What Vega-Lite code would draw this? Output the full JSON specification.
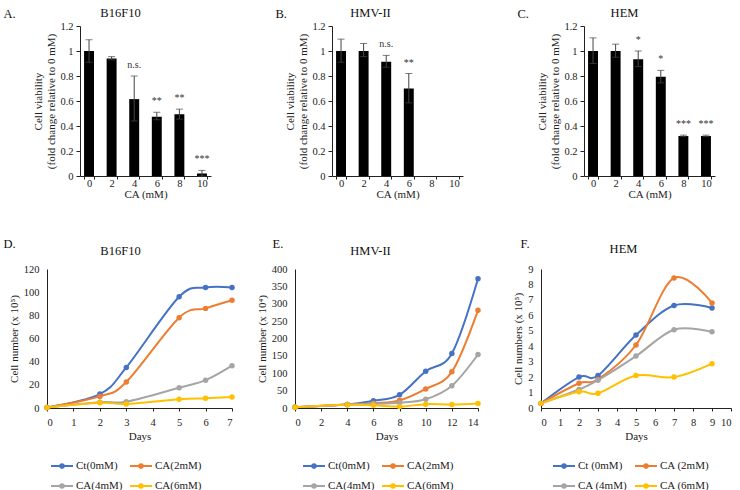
{
  "$schema": "https://vega.github.io/schema/vega-lite/v6.json",
  "padding": {"left": 3, "top": 6, "right": 0, "bottom": 0},
  "spacing": 37,
  "datasets": {
    "barA": [
      {"ca": "0", "v": 1.0, "lo": 0.91, "hi": 1.09, "sig": ""},
      {"ca": "2", "v": 0.94, "lo": 0.93, "hi": 0.955, "sig": ""},
      {"ca": "4", "v": 0.615, "lo": 0.44, "hi": 0.8, "sig": "n.s."},
      {"ca": "6", "v": 0.475, "lo": 0.45, "hi": 0.51, "sig": "**"},
      {"ca": "8", "v": 0.495, "lo": 0.455, "hi": 0.535, "sig": "**"},
      {"ca": "10", "v": 0.02, "lo": 0.0, "hi": 0.045, "sig": "***"}
    ],
    "barB": [
      {"ca": "0", "v": 1.0, "lo": 0.91, "hi": 1.095, "sig": ""},
      {"ca": "2", "v": 1.0, "lo": 0.955, "hi": 1.06, "sig": ""},
      {"ca": "4", "v": 0.915, "lo": 0.87, "hi": 0.965, "sig": "n.s."},
      {"ca": "6", "v": 0.7, "lo": 0.585, "hi": 0.82, "sig": "**"},
      {"ca": "8", "v": 0, "sig": ""},
      {"ca": "10", "v": 0, "sig": ""}
    ],
    "barC": [
      {"ca": "0", "v": 1.0, "lo": 0.9, "hi": 1.105, "sig": ""},
      {"ca": "2", "v": 1.0, "lo": 0.95, "hi": 1.055, "sig": ""},
      {"ca": "4", "v": 0.935, "lo": 0.875, "hi": 1.0, "sig": "*"},
      {"ca": "6", "v": 0.795, "lo": 0.745, "hi": 0.845, "sig": "*"},
      {"ca": "8", "v": 0.32, "lo": 0.315, "hi": 0.327, "sig": "***"},
      {"ca": "10", "v": 0.32, "lo": 0.315, "hi": 0.327, "sig": "***"}
    ],
    "lineD": [
      {"s": "Ct(0mM)", "day": 0, "v": 0.5}, {"s": "Ct(0mM)", "day": 2, "v": 12}, {"s": "Ct(0mM)", "day": 3, "v": 35}, {"s": "Ct(0mM)", "day": 5, "v": 96}, {"s": "Ct(0mM)", "day": 6, "v": 104}, {"s": "Ct(0mM)", "day": 7, "v": 104},
      {"s": "CA(2mM)", "day": 0, "v": 0.5}, {"s": "CA(2mM)", "day": 2, "v": 10}, {"s": "CA(2mM)", "day": 3, "v": 22.5}, {"s": "CA(2mM)", "day": 5, "v": 78}, {"s": "CA(2mM)", "day": 6, "v": 86}, {"s": "CA(2mM)", "day": 7, "v": 93},
      {"s": "CA(4mM)", "day": 0, "v": 0.5}, {"s": "CA(4mM)", "day": 2, "v": 5}, {"s": "CA(4mM)", "day": 3, "v": 5.5}, {"s": "CA(4mM)", "day": 5, "v": 17.5}, {"s": "CA(4mM)", "day": 6, "v": 24}, {"s": "CA(4mM)", "day": 7, "v": 36.5},
      {"s": "CA(6mM)", "day": 0, "v": 0.5}, {"s": "CA(6mM)", "day": 2, "v": 4.5}, {"s": "CA(6mM)", "day": 3, "v": 3.5}, {"s": "CA(6mM)", "day": 5, "v": 7.5}, {"s": "CA(6mM)", "day": 6, "v": 8.5}, {"s": "CA(6mM)", "day": 7, "v": 9.5}
    ],
    "lineE": [
      {"s": "Ct(0mM)", "day": 0, "v": 2}, {"s": "Ct(0mM)", "day": 4, "v": 10}, {"s": "Ct(0mM)", "day": 6, "v": 21}, {"s": "Ct(0mM)", "day": 8, "v": 38}, {"s": "Ct(0mM)", "day": 10, "v": 106}, {"s": "Ct(0mM)", "day": 12, "v": 157}, {"s": "Ct(0mM)", "day": 14, "v": 372},
      {"s": "CA(2mM)", "day": 0, "v": 2}, {"s": "CA(2mM)", "day": 4, "v": 10}, {"s": "CA(2mM)", "day": 6, "v": 14}, {"s": "CA(2mM)", "day": 8, "v": 22}, {"s": "CA(2mM)", "day": 10, "v": 55}, {"s": "CA(2mM)", "day": 12, "v": 104}, {"s": "CA(2mM)", "day": 14, "v": 281},
      {"s": "CA(4mM)", "day": 0, "v": 2}, {"s": "CA(4mM)", "day": 4, "v": 10}, {"s": "CA(4mM)", "day": 6, "v": 12}, {"s": "CA(4mM)", "day": 8, "v": 15}, {"s": "CA(4mM)", "day": 10, "v": 25}, {"s": "CA(4mM)", "day": 12, "v": 64}, {"s": "CA(4mM)", "day": 14, "v": 154},
      {"s": "CA(6mM)", "day": 0, "v": 2}, {"s": "CA(6mM)", "day": 4, "v": 9}, {"s": "CA(6mM)", "day": 6, "v": 8}, {"s": "CA(6mM)", "day": 8, "v": 4}, {"s": "CA(6mM)", "day": 10, "v": 11}, {"s": "CA(6mM)", "day": 12, "v": 10}, {"s": "CA(6mM)", "day": 14, "v": 13}
    ],
    "lineF": [
      {"s": "Ct (0mM)", "day": 0, "v": 0.3}, {"s": "Ct (0mM)", "day": 2, "v": 2.0}, {"s": "Ct (0mM)", "day": 3, "v": 2.1}, {"s": "Ct (0mM)", "day": 5, "v": 4.72}, {"s": "Ct (0mM)", "day": 7, "v": 6.64}, {"s": "Ct (0mM)", "day": 9, "v": 6.47},
      {"s": "CA (2mM)", "day": 0, "v": 0.3}, {"s": "CA (2mM)", "day": 2, "v": 1.6}, {"s": "CA (2mM)", "day": 3, "v": 1.85}, {"s": "CA (2mM)", "day": 5, "v": 4.08}, {"s": "CA (2mM)", "day": 7, "v": 8.42}, {"s": "CA (2mM)", "day": 9, "v": 6.8},
      {"s": "CA (4mM)", "day": 0, "v": 0.3}, {"s": "CA (4mM)", "day": 2, "v": 1.2}, {"s": "CA (4mM)", "day": 3, "v": 1.8}, {"s": "CA (4mM)", "day": 5, "v": 3.36}, {"s": "CA (4mM)", "day": 7, "v": 5.07}, {"s": "CA (4mM)", "day": 9, "v": 4.93},
      {"s": "CA (6mM)", "day": 0, "v": 0.3}, {"s": "CA (6mM)", "day": 2, "v": 1.05}, {"s": "CA (6mM)", "day": 3, "v": 0.95}, {"s": "CA (6mM)", "day": 5, "v": 2.1}, {"s": "CA (6mM)", "day": 7, "v": 2.0}, {"s": "CA (6mM)", "day": 9, "v": 2.87}
    ]
  },
  "vconcat": [
    {
      "hconcat": [
        {
          "width": 131, "height": 150,
          "data": {"name": "barA"},
          "resolve": {"axis": {"x": "independent", "y": "independent"}},
          "layer": [
            {"mark": {"type": "bar", "color": "#000"}, "encoding": {
              "x": {"field": "ca", "type": "ordinal", "scale": {"domain": ["0", "2", "4", "6", "8", "10"], "paddingInner": 0.56, "paddingOuter": 0.18}, "axis": {"title": "CA (mM)", "labelAngle": 0, "tickBand": "extent", "tickSize": 3, "labelPadding": -1, "titlePadding": 0}},
              "y": {"field": "v", "type": "quantitative", "scale": {"domain": [0, 1.2]}, "axis": {"values": [0, 0.2, 0.4, 0.6, 0.8, 1, 1.2], "format": "~g", "title": ["Cell viability", "(fold change relative to 0 mM)"], "tickSize": 4, "labelPadding": 3, "titlePadding": 3}}}},
            {"mark": {"type": "rule", "color": "#444"}, "encoding": {"x": {"field": "ca", "type": "ordinal", "axis": null}, "y": {"field": "lo", "type": "quantitative", "axis": null}, "y2": {"field": "hi"}}},
            {"mark": {"type": "tick", "color": "#444", "size": 7, "thickness": 1}, "encoding": {"x": {"field": "ca", "type": "ordinal", "axis": null}, "y": {"field": "lo", "type": "quantitative", "axis": null}}},
            {"mark": {"type": "tick", "color": "#444", "size": 7, "thickness": 1}, "encoding": {"x": {"field": "ca", "type": "ordinal", "axis": null}, "y": {"field": "hi", "type": "quantitative", "axis": null}}},
            {"mark": {"type": "text", "baseline": "alphabetic", "dy": -8, "fontSize": 10, "color": "#333", "font": "Liberation Serif"}, "encoding": {"x": {"field": "ca", "type": "ordinal", "axis": null}, "y": {"field": "hi", "type": "quantitative", "axis": null}, "text": {"field": "sig"}}},
            {"mark": {"type": "point", "opacity": 0}, "encoding": {
              "x": {"field": "ca", "type": "ordinal", "axis": {"orient": "top", "domain": false, "labels": false, "ticks": false, "title": "B16F10", "titleX": 40, "titleY": -14, "titleAlign": "center", "titleBaseline": "middle", "titleFontSize": 12.5, "titleColor": "#111"}},
              "y": {"field": "v", "type": "quantitative", "axis": {"orient": "right", "domain": false, "labels": false, "ticks": false, "title": "A.", "titleX": -208, "titleY": -13, "titleAngle": 0, "titleAlign": "left", "titleBaseline": "middle", "titleFontSize": 12.5, "titleColor": "#111"}}}}
          ]
        },
        {
          "width": 131, "height": 150,
          "data": {"name": "barB"},
          "resolve": {"axis": {"x": "independent", "y": "independent"}},
          "layer": [
            {"mark": {"type": "bar", "color": "#000"}, "encoding": {
              "x": {"field": "ca", "type": "ordinal", "scale": {"domain": ["0", "2", "4", "6", "8", "10"], "paddingInner": 0.56, "paddingOuter": 0.18}, "axis": {"title": "CA (mM)", "labelAngle": 0, "tickBand": "extent", "tickSize": 3, "labelPadding": -1, "titlePadding": 0}},
              "y": {"field": "v", "type": "quantitative", "scale": {"domain": [0, 1.2]}, "axis": {"values": [0, 0.2, 0.4, 0.6, 0.8, 1, 1.2], "format": "~g", "title": ["Cell viability", "(fold change relative to 0 mM)"], "tickSize": 4, "labelPadding": 3, "titlePadding": 3}}}},
            {"mark": {"type": "rule", "color": "#444"}, "encoding": {"x": {"field": "ca", "type": "ordinal", "axis": null}, "y": {"field": "lo", "type": "quantitative", "axis": null}, "y2": {"field": "hi"}}},
            {"mark": {"type": "tick", "color": "#444", "size": 7, "thickness": 1}, "encoding": {"x": {"field": "ca", "type": "ordinal", "axis": null}, "y": {"field": "lo", "type": "quantitative", "axis": null}}},
            {"mark": {"type": "tick", "color": "#444", "size": 7, "thickness": 1}, "encoding": {"x": {"field": "ca", "type": "ordinal", "axis": null}, "y": {"field": "hi", "type": "quantitative", "axis": null}}},
            {"mark": {"type": "text", "baseline": "alphabetic", "dy": -8, "fontSize": 10, "color": "#333", "font": "Liberation Serif"}, "encoding": {"x": {"field": "ca", "type": "ordinal", "axis": null}, "y": {"field": "hi", "type": "quantitative", "axis": null}, "text": {"field": "sig"}}},
            {"mark": {"type": "point", "opacity": 0}, "encoding": {
              "x": {"field": "ca", "type": "ordinal", "axis": {"orient": "top", "domain": false, "labels": false, "ticks": false, "title": "HMV-II", "titleX": 38, "titleY": -14, "titleAlign": "center", "titleBaseline": "middle", "titleFontSize": 12.5, "titleColor": "#111"}},
              "y": {"field": "v", "type": "quantitative", "axis": {"orient": "right", "domain": false, "labels": false, "ticks": false, "title": "B.", "titleX": -188, "titleY": -13, "titleAngle": 0, "titleAlign": "left", "titleBaseline": "middle", "titleFontSize": 12.5, "titleColor": "#111"}}}}
          ]
        },
        {
          "width": 131, "height": 150,
          "data": {"name": "barC"},
          "resolve": {"axis": {"x": "independent", "y": "independent"}},
          "layer": [
            {"mark": {"type": "bar", "color": "#000"}, "encoding": {
              "x": {"field": "ca", "type": "ordinal", "scale": {"domain": ["0", "2", "4", "6", "8", "10"], "paddingInner": 0.56, "paddingOuter": 0.18}, "axis": {"title": "CA (mM)", "labelAngle": 0, "tickBand": "extent", "tickSize": 3, "labelPadding": -1, "titlePadding": 0}},
              "y": {"field": "v", "type": "quantitative", "scale": {"domain": [0, 1.2]}, "axis": {"values": [0, 0.2, 0.4, 0.6, 0.8, 1, 1.2], "format": "~g", "title": ["Cell viability", "(fold change relative to 0 mM)"], "tickSize": 4, "labelPadding": 3, "titlePadding": 3}}}},
            {"mark": {"type": "rule", "color": "#444"}, "encoding": {"x": {"field": "ca", "type": "ordinal", "axis": null}, "y": {"field": "lo", "type": "quantitative", "axis": null}, "y2": {"field": "hi"}}},
            {"mark": {"type": "tick", "color": "#444", "size": 7, "thickness": 1}, "encoding": {"x": {"field": "ca", "type": "ordinal", "axis": null}, "y": {"field": "lo", "type": "quantitative", "axis": null}}},
            {"mark": {"type": "tick", "color": "#444", "size": 7, "thickness": 1}, "encoding": {"x": {"field": "ca", "type": "ordinal", "axis": null}, "y": {"field": "hi", "type": "quantitative", "axis": null}}},
            {"mark": {"type": "text", "baseline": "alphabetic", "dy": -8, "fontSize": 10, "color": "#333", "font": "Liberation Serif"}, "encoding": {"x": {"field": "ca", "type": "ordinal", "axis": null}, "y": {"field": "hi", "type": "quantitative", "axis": null}, "text": {"field": "sig"}}},
            {"mark": {"type": "point", "opacity": 0}, "encoding": {
              "x": {"field": "ca", "type": "ordinal", "axis": {"orient": "top", "domain": false, "labels": false, "ticks": false, "title": "HEM", "titleX": 40, "titleY": -14, "titleAlign": "center", "titleBaseline": "middle", "titleFontSize": 12.5, "titleColor": "#111"}},
              "y": {"field": "v", "type": "quantitative", "axis": {"orient": "right", "domain": false, "labels": false, "ticks": false, "title": "C.", "titleX": -198, "titleY": -13, "titleAngle": 0, "titleAlign": "left", "titleBaseline": "middle", "titleFontSize": 12.5, "titleColor": "#111"}}}}
          ]
        }
      ],
      "spacing": 121,
      "bounds": "flush"
    },
    {
      "hconcat": [
        {
          "width": 152, "height": 139,
          "data": {"name": "lineD"},
          "resolve": {"axis": {"x": "independent", "y": "independent"}},
          "layer": [
            {"mark": {"type": "line", "interpolate": "cardinal", "strokeWidth": 2, "point": {"filled": true, "size": 30}},
             "encoding": {
              "x": {"field": "day", "type": "quantitative", "scale": {"domain": [0, 7], "nice": false, "range": [-33, 152]}, "axis": {"values": [0, 1, 2, 3, 4, 5, 6, 7], "title": "Days", "tickSize": 3, "labelPadding": 6, "titlePadding": 3}},
              "y": {"field": "v", "type": "quantitative", "scale": {"domain": [0, 120]}, "axis": {"values": [0, 20, 40, 60, 80, 100, 120], "title": "Cell number (x 10\u2075)", "ticks": false, "labelPadding": 8, "titlePadding": 4, "offset": 33}},
              "color": {"field": "s", "type": "nominal", "scale": {"domain": ["Ct(0mM)", "CA(2mM)", "CA(4mM)", "CA(6mM)"], "range": ["#4472C4", "#ED7D31", "#A5A5A5", "#FFC000"]}, "legend": {"title": null, "orient": "none", "legendX": -30, "legendY": 185, "direction": "horizontal", "columns": 2}}
             }},
            {"mark": {"type": "point", "opacity": 0}, "encoding": {
              "x": {"field": "day", "type": "quantitative", "axis": {"orient": "top", "domain": false, "labels": false, "ticks": false, "title": "B16F10", "titleX": 40, "titleY": -19, "titleAlign": "center", "titleBaseline": "middle", "titleFontSize": 12.5, "titleColor": "#111"}},
              "y": {"field": "v", "type": "quantitative", "axis": {"orient": "right", "domain": false, "labels": false, "ticks": false, "title": "D.", "titleX": -229, "titleY": -26, "titleAngle": 0, "titleAlign": "left", "titleBaseline": "middle", "titleFontSize": 12.5, "titleColor": "#111"}}}}
          ]
        },
        {
          "width": 183, "height": 139,
          "data": {"name": "lineE"},
          "resolve": {"axis": {"x": "independent", "y": "independent"}},
          "layer": [
            {"mark": {"type": "line", "interpolate": "cardinal", "strokeWidth": 2, "point": {"filled": true, "size": 30}},
             "encoding": {
              "x": {"field": "day", "type": "quantitative", "scale": {"domain": [0, 14], "nice": false}, "axis": {"values": [0, 2, 4, 6, 8, 10, 12, 14], "title": "Days", "tickSize": 3, "labelPadding": 6, "titlePadding": 3}},
              "y": {"field": "v", "type": "quantitative", "scale": {"domain": [0, 400]}, "axis": {"values": [0, 50, 100, 150, 200, 250, 300, 350, 400], "title": "Cell number (x 10\u2074)", "ticks": false, "labelPadding": 8, "titlePadding": 4}},
              "color": {"field": "s", "type": "nominal", "scale": {"domain": ["Ct(0mM)", "CA(2mM)", "CA(4mM)", "CA(6mM)"], "range": ["#4472C4", "#ED7D31", "#A5A5A5", "#FFC000"]}, "legend": {"title": null, "orient": "none", "legendX": 7, "legendY": 185, "direction": "horizontal", "columns": 2}}
             }},
            {"mark": {"type": "point", "opacity": 0}, "encoding": {
              "x": {"field": "day", "type": "quantitative", "axis": {"orient": "top", "domain": false, "labels": false, "ticks": false, "title": "HMV-II", "titleX": 75, "titleY": -19, "titleAlign": "center", "titleBaseline": "middle", "titleFontSize": 12.5, "titleColor": "#111"}},
              "y": {"field": "v", "type": "quantitative", "axis": {"orient": "right", "domain": false, "labels": false, "ticks": false, "title": "E.", "titleX": -206, "titleY": -26, "titleAngle": 0, "titleAlign": "left", "titleBaseline": "middle", "titleFontSize": 12.5, "titleColor": "#111"}}}}
          ]
        },
        {
          "width": 190, "height": 139,
          "data": {"name": "lineF"},
          "resolve": {"axis": {"x": "independent", "y": "independent"}},
          "layer": [
            {"mark": {"type": "line", "interpolate": "cardinal", "strokeWidth": 2, "point": {"filled": true, "size": 30}},
             "encoding": {
              "x": {"field": "day", "type": "quantitative", "scale": {"domain": [0, 10], "nice": false}, "axis": {"values": [0, 1, 2, 3, 4, 5, 6, 7, 8, 9, 10], "title": "Days", "tickSize": 3, "labelPadding": 6, "titlePadding": 3}},
              "y": {"field": "v", "type": "quantitative", "scale": {"domain": [0, 9]}, "axis": {"values": [0, 1, 2, 3, 4, 5, 6, 7, 8, 9], "title": "Cell numbers (x 10\u2075)", "ticks": false, "labelPadding": 8, "titlePadding": 4}},
              "color": {"field": "s", "type": "nominal", "scale": {"domain": ["Ct (0mM)", "CA (2mM)", "CA (4mM)", "CA (6mM)"], "range": ["#4472C4", "#ED7D31", "#A5A5A5", "#FFC000"]}, "legend": {"title": null, "orient": "none", "legendX": 11, "legendY": 185, "direction": "horizontal", "columns": 2}}
             }},
            {"mark": {"type": "point", "opacity": 0}, "encoding": {
              "x": {"field": "day", "type": "quantitative", "axis": {"orient": "top", "domain": false, "labels": false, "ticks": false, "title": "HEM", "titleX": 82, "titleY": -21, "titleAlign": "center", "titleBaseline": "middle", "titleFontSize": 12.5, "titleColor": "#111"}},
              "y": {"field": "v", "type": "quantitative", "axis": {"orient": "right", "domain": false, "labels": false, "ticks": false, "title": "F.", "titleX": -211, "titleY": -26, "titleAngle": 0, "titleAlign": "left", "titleBaseline": "middle", "titleFontSize": 12.5, "titleColor": "#111"}}}}
          ]
        }
      ],
      "spacing": 63,
      "bounds": "flush",
      "resolve": {"scale": {"color": "independent"}}
    }
  ],
  "config": {
    "font": "Liberation Serif",
    "view": {"stroke": null},
    "axis": {"labelFont": "Liberation Serif", "titleFont": "Liberation Serif", "labelFontSize": 10.5, "titleFontSize": 11, "titleFontWeight": "normal", "labelColor": "#222", "titleColor": "#222", "domainColor": "#222", "tickColor": "#222", "grid": false, "titleLineHeight": 13, "labelOverlap": false},
    "legend": {"labelFont": "Liberation Serif", "labelFontSize": 11, "labelColor": "#222", "symbolType": "M-1,0H1M0.16,0A0.16,0.16 0 1,0 -0.16,0A0.16,0.16 0 1,0 0.16,0M0.07,0A0.07,0.07 0 1,0 -0.07,0A0.07,0.07 0 1,0 0.07,0", "symbolSize": 484, "symbolStrokeWidth": 2, "labelOffset": 2, "columnPadding": 3, "rowPadding": 2}
  }
}
